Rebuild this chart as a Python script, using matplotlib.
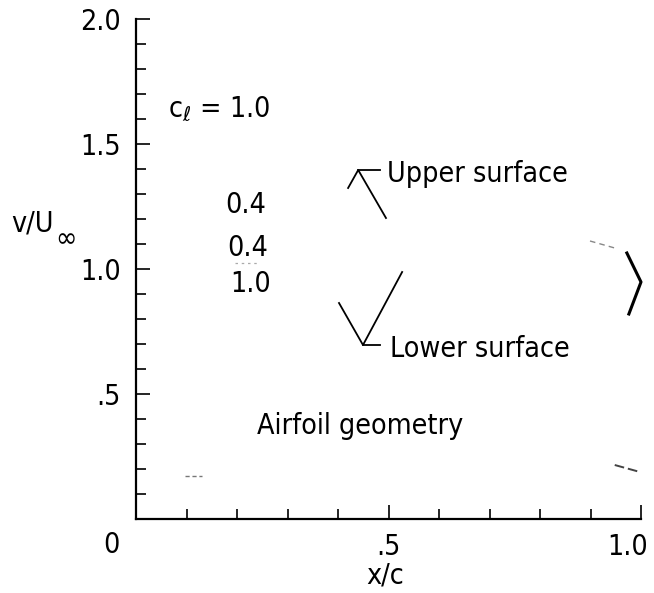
import matplotlib
matplotlib.use("Agg")
import matplotlib.pyplot as plt
from matplotlib.ticker import MultipleLocator
from matplotlib.transforms import ScaledTranslation

# ---- data ----
x_major = [0.5, 1.0]
x_major_labels = [".5", "1.0"]
y_major = [0.5, 1.0, 1.5, 2.0]
y_major_labels = [".5", "1.0", "1.5", "2.0"]

# visible fragments of the velocity curves
te_x = [0.972, 1.0, 0.976]
te_y = [1.064, 0.948, 0.82]
te_faint_x = [0.899, 0.948]
te_faint_y = [1.112, 1.084]
mid_faint_x = [0.196, 0.246]
mid_faint_y = [1.024, 1.024]

# visible fragments of the airfoil geometry
geo_le_x = [0.097, 0.131]
geo_le_y = [0.172, 0.172]
geo_te_x = [0.948, 0.998]
geo_te_y = [0.216, 0.188]

# leader lines
upper_leader_x = [0.42, 0.44, 0.495]
upper_leader_y = [1.324, 1.396, 1.204]
upper_hook_x = [0.44, 0.483]
upper_hook_y = [1.396, 1.396]
lower_leader_x = [0.402, 0.4495, 0.527]
lower_leader_y = [0.864, 0.696, 0.988]
lower_hook_x = [0.4495, 0.483]
lower_hook_y = [0.696, 0.696]

# curve labels (c_l values)
cl_labels = ["0.4", "0.4", "1.0"]
cl_label_x = [0.217, 0.222, 0.226]
cl_label_y = [1.224, 1.054, 0.906]

W, H = 654, 593
fig = plt.figure(figsize=(W / 100, H / 100), dpi=100)
ax = fig.add_axes([136 / W, 1 - 519 / H, (641 - 136) / W, (519 - 19) / H])

FONT = dict(family="DejaVu Sans", stretch="condensed")
FS = 20.5

ax.set_xlim(0, 1)
ax.set_ylim(0, 2)
for s in ["top", "right"]:
    ax.spines[s].set_visible(False)
for s in ["left", "bottom"]:
    ax.spines[s].set_linewidth(1.6)

ax.set_xticks(x_major)
ax.set_xticklabels(x_major_labels)
ax.set_yticks(y_major)
ax.set_yticklabels(y_major_labels)
ax.xaxis.set_minor_locator(MultipleLocator(0.1))
ax.yaxis.set_minor_locator(MultipleLocator(0.1))
ax.tick_params(which="major", direction="in", length=10, width=1.2, labelsize=FS)
ax.tick_params(which="minor", direction="in", length=7, width=1.2)
ax.tick_params(axis="y", which="major", pad=11)
ax.tick_params(axis="x", which="major", pad=10)
for lab in ax.get_xticklabels() + ax.get_yticklabels():
    lab.set_fontstretch("condensed")
for t in ax.xaxis.get_major_ticks() + ax.yaxis.get_major_ticks() + \
        ax.xaxis.get_minor_ticks() + ax.yaxis.get_minor_ticks():
    t.tick1line.set_clip_on(False)
# right-most x label sits just left of the axis end, as in the original
last = ax.get_xticklabels()[-1]
last.set_ha("right")
last.set_transform(last.get_transform() + ScaledTranslation(7 / 100, 0, fig.dpi_scale_trans))

# curve fragments
ax.plot(te_x, te_y, color="black", lw=2.2, clip_on=False)
ax.plot(te_faint_x, te_faint_y, color="#888888", lw=1.0, ls=(0, (4, 3)), clip_on=False)
ax.plot(mid_faint_x, mid_faint_y, color="#aaaaaa", lw=0.9, ls=(0, (2, 3)))
ax.plot(geo_le_x, geo_le_y, color="#777777", lw=1.0, ls=(0, (3, 2)))
ax.plot(geo_te_x, geo_te_y, color="#444444", lw=1.4, ls=(0, (5, 2)), clip_on=False)

# leader lines
for lx, ly in [(upper_leader_x, upper_leader_y), (upper_hook_x, upper_hook_y),
               (lower_leader_x, lower_leader_y), (lower_hook_x, lower_hook_y)]:
    ax.plot(lx, ly, color="black", lw=1.3)

ax.text(0.497, 1.348, "Upper surface", fontsize=FS, va="baseline", ha="left", **FONT)
ax.text(0.503, 0.648, "Lower surface", fontsize=FS, va="baseline", ha="left", **FONT)
ax.text(0.24, 0.34, "Airfoil geometry", fontsize=FS, va="baseline", ha="left", **FONT)
ax.text(0.064, 1.608, r"c$_{\ell}$ = 1.0", fontsize=FS, va="baseline", ha="left", **FONT)
for lab, lx, ly in zip(cl_labels, cl_label_x, cl_label_y):
    ax.text(lx, ly, lab, fontsize=FS, va="baseline", ha="center", **FONT)

# axis labels and the origin label
fig.text(111 / W, 1 - 545 / H, "0", fontsize=FS, ha="center", va="center", **FONT)
fig.text(385 / W, 1 - 576 / H, "x/c", fontsize=FS, ha="center", va="center", **FONT)
fig.text(11 / W, 1 - 232 / H, "v/U", fontsize=FS, ha="left", va="baseline", **FONT)
fig.text(66 / W, 1 - 239 / H, "\u221e", fontsize=FS, ha="center", va="center", **FONT)

fig.savefig("out.png", dpi=100)
